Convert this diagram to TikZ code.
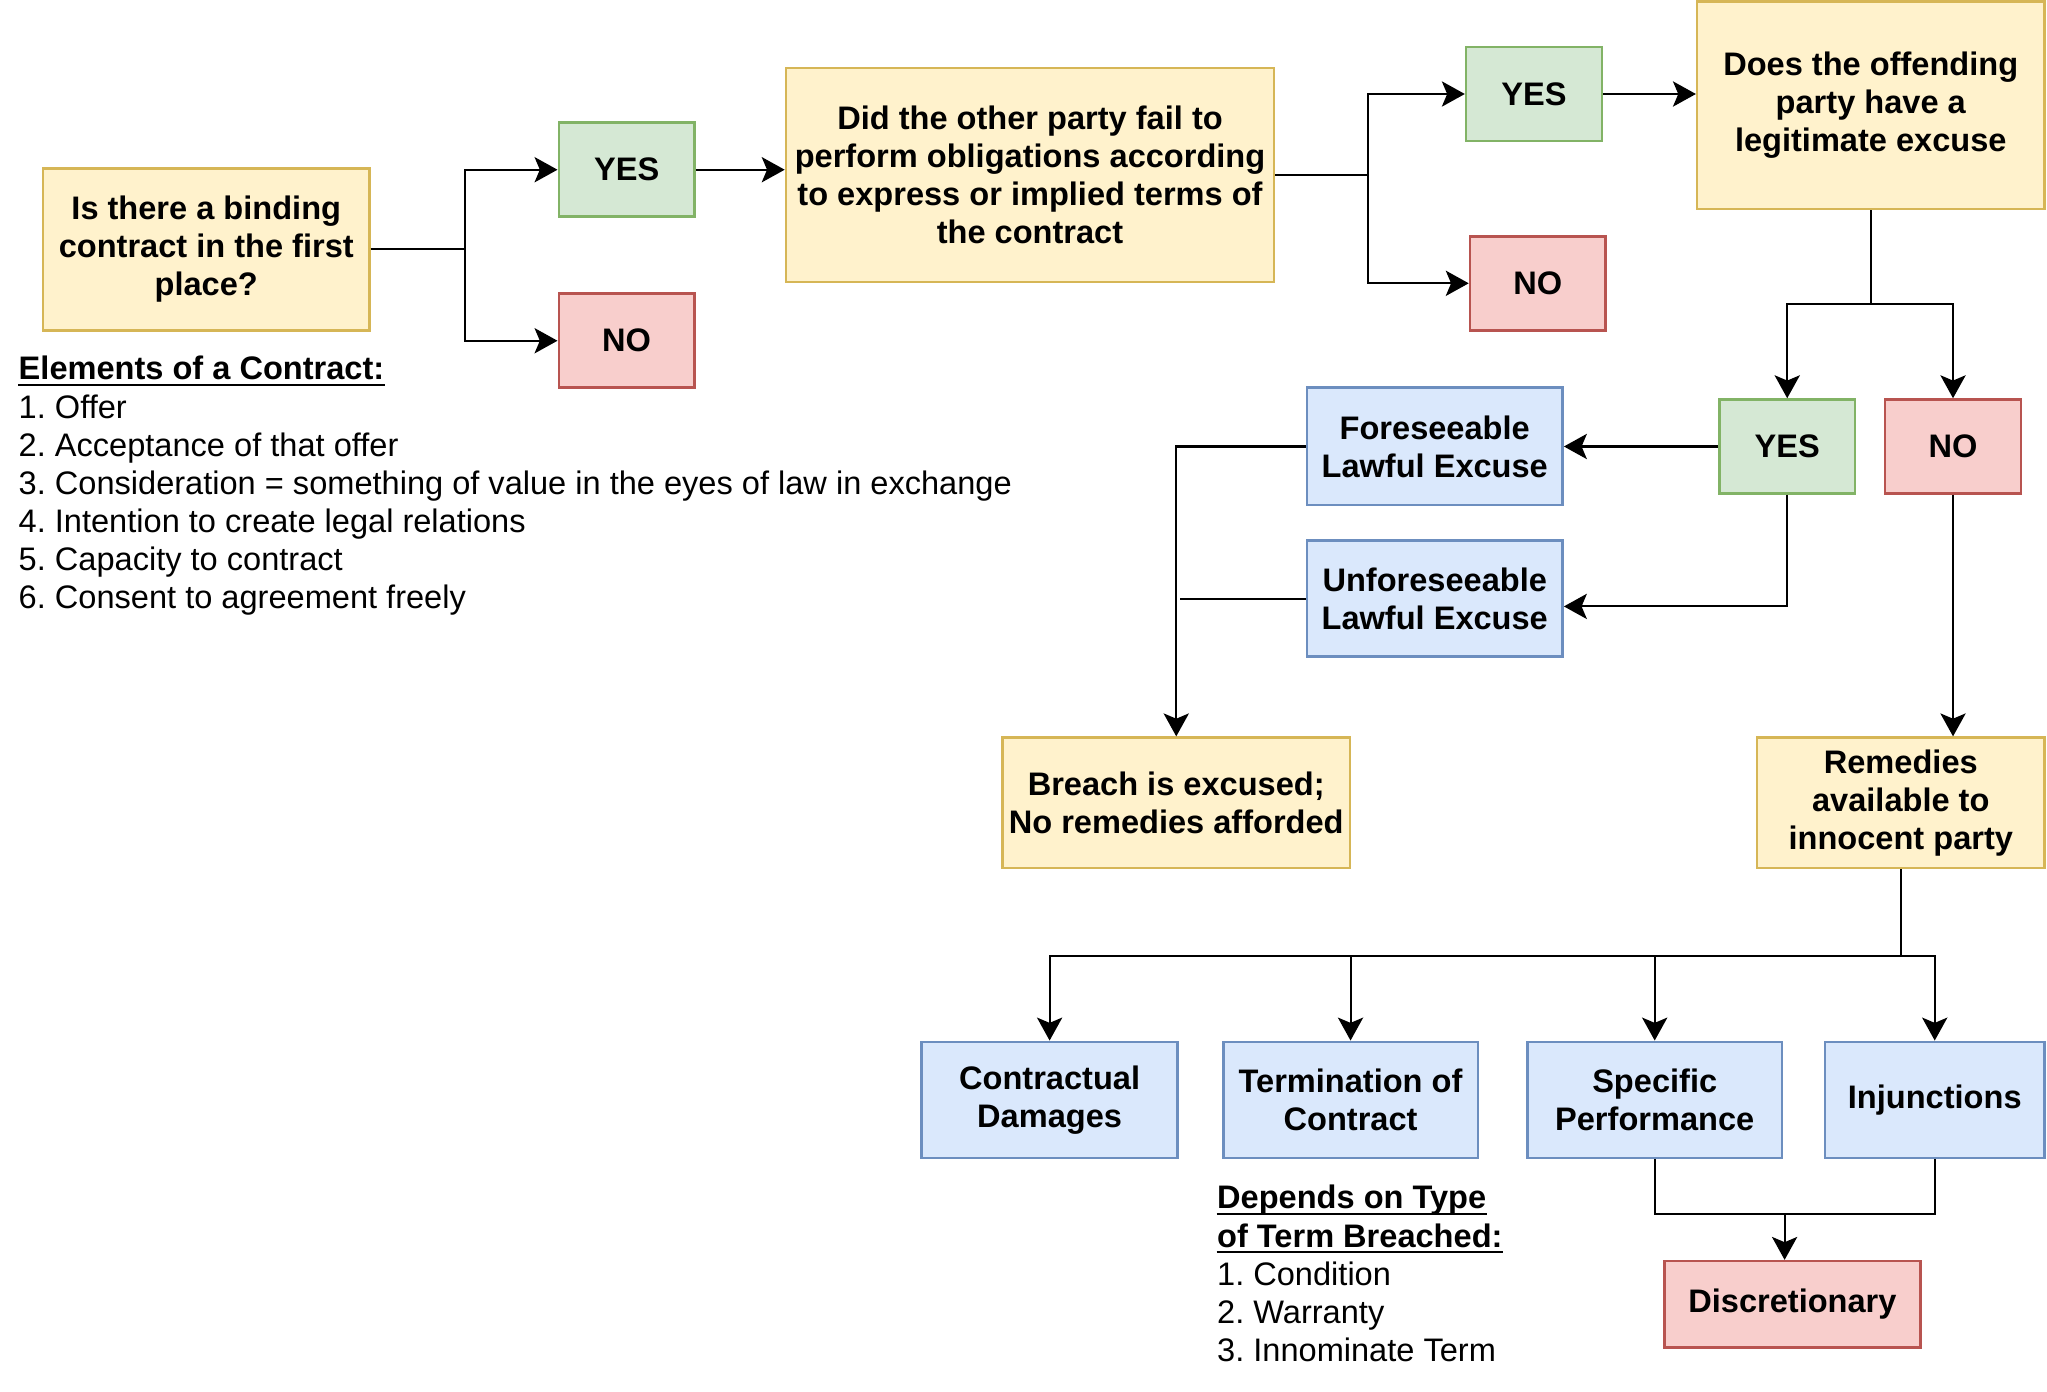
\documentclass[tikz,border=0pt]{standalone}
\usepackage{fontspec}
\setmainfont{Liberation Sans}
\frenchspacing
\usetikzlibrary{arrows.meta}
\definecolor{yfill}{HTML}{FFF2CC}
\definecolor{ydraw}{HTML}{D6B656}
\definecolor{gfill}{HTML}{D5E8D4}
\definecolor{gdraw}{HTML}{82B366}
\definecolor{rfill}{HTML}{F8CECC}
\definecolor{rdraw}{HTML}{B85450}
\definecolor{bfill}{HTML}{DAE8FC}
\definecolor{bdraw}{HTML}{6C8EBF}

\begin{document}
\begin{tikzpicture}[x=0.02cm, y=-0.02cm,
	box/.style={draw, line width=1.1pt, align=center, inner sep=0pt, font=\fontsize{14.2}{16.6}\selectfont\bfseries},
	question/.style={box, fill=yfill, draw=ydraw},
	yesbox/.style={box, fill=gfill, draw=gdraw, minimum width=2.08cm, minimum height=1.44cm},
	nobox/.style={box, fill=rfill, draw=rdraw, minimum width=2.08cm, minimum height=1.44cm},
	remedy/.style={box, fill=bfill, draw=bdraw, minimum height=1.78cm},
	conn/.style={line width=0.9pt},
	arr/.style={conn, -{Stealth[length=10pt, width=11pt, inset=2.3pt]}},
	listtext/.style={anchor=base west, inner sep=0pt, font=\fontsize{14.2}{16.6}\selectfont}]
	\path[use as bounding box, fill=white] (0,0) rectangle (1568,1066);
	% first question
	\node[question, minimum width=5cm, minimum height=2.48cm] (binding) at (158,191) {Is there a binding\\contract in the first\\place?};
	\node[yesbox] (yesA) at (480,130) {YES};
	\node[nobox] (noA) at (480,261) {NO};
	\coordinate (splitA) at (356,191);
	\draw[conn] (binding.east) -- (splitA);
	\draw[arr] (splitA) |- (yesA.west);
	\draw[arr] (splitA) |- (noA.west);
	% second question
	\node[question, minimum width=7.48cm, minimum height=3.28cm] (breachq) at (789,134) {Did the other party fail to\\perform obligations according\\to express or implied terms of\\the contract};
	\draw[arr] (yesA.east) -- (yesA.east -| breachq.west);
	\node[yesbox] (yesB) at (1175,72) {YES};
	\node[nobox] (noB) at (1178,217) {NO};
	\coordinate (splitB) at (1048,134);
	\draw[conn] (breachq.east) -- (splitB);
	\draw[arr] (splitB) |- (yesB.west);
	\draw[arr] (splitB) |- (noB.west);
	% third question
	\node[question, minimum width=5.32cm, minimum height=3.18cm] (excuse) at (1433,80.5) {Does the offending\\party have a\\legitimate excuse};
	\draw[arr] (yesB.east) -- (yesB.east -| excuse.west);
	\node[yesbox] (yesC) at (1369,342) {YES};
	\node[nobox] (noC) at (1496,342) {NO};
	\coordinate (splitC) at (1433,233);
	\draw[conn] (excuse.south) -- (splitC);
	\draw[arr] (splitC) -| (yesC.north);
	\draw[arr] (splitC) -| (noC.north);
	% lawful excuses
	\node[remedy, minimum width=3.92cm, minimum height=1.8cm] (fore) at (1099,342) {Foreseeable\\Lawful Excuse};
	\node[remedy, minimum width=3.92cm] (unfore) at (1099,458.5) {Unforeseeable\\Lawful Excuse};
	\draw[arr] (yesC.west) -- (fore.east);
	\draw[arr] (yesC.south) |- ([yshift=-0.12cm]unfore.east);
	\node[question, minimum width=5.32cm, minimum height=2cm] (excused) at (901,615) {Breach is excused;\\No remedies afforded};
	\draw[arr] (fore.west) -| (excused.north);
	\draw[conn] (unfore.west) -- ([xshift=0.06cm]unfore.west -| excused.north);
	% remedies
	\node[question, minimum width=4.4cm, minimum height=2cm] (remedies) at (1456,615) {Remedies\\available to\\innocent party};
	\draw[arr] (noC.south) -- (noC.south |- remedies.north);
	\node[remedy, minimum width=3.92cm] (damages) at (804,842.5) {Contractual\\Damages};
	\node[remedy, minimum width=3.9cm] (termination) at (1034.5,842.5) {Termination of\\Contract};
	\node[remedy, minimum width=3.9cm] (specific) at (1267.5,842.5) {Specific\\Performance};
	\node[remedy, minimum width=3.36cm] (injunctions) at (1482,842.5) {Injunctions};
	\coordinate (splitD) at (1456,732);
	\draw[conn] (remedies.south) -- (splitD);
	\foreach \r in {damages,termination,specific,injunctions}
		\draw[arr] (splitD) -| (\r.north);
	\node[box, fill=rfill, draw=rdraw, minimum width=3.92cm, minimum height=1.32cm] (discretionary) at (1373,999) {Discretionary};
	\coordinate (splitE) at (1367,930);
	\draw[conn] (specific.south) |- (splitE);
	\draw[conn] (injunctions.south) |- (splitE);
	\draw[arr] (splitE) -- (splitE |- discretionary.north);
	% notes
	\node[listtext, font=\fontsize{14.2}{16.6}\selectfont\bfseries] (elhead) at (14,291) {Elements of a Contract:};
	\draw[line width=0.8pt] ([yshift=-2.2pt]elhead.base west) -- ([yshift=-2.2pt]elhead.base east);
	\foreach \t [count=\i] in {1. Offer, 2. Acceptance of that offer, 3. Consideration = something of value in the eyes of law in exchange, 4. Intention to create legal relations, 5. Capacity to contract, 6. Consent to agreement freely}
		\node[listtext] (el\i) at (14,{291+29.2*\i}) {\t};
	\node[listtext, font=\fontsize{14.2}{16.6}\selectfont\bfseries] (dephead) at (932,926) {Depends on Type};
	\node[listtext, font=\fontsize{14.2}{16.6}\selectfont\bfseries] (dephead2) at (932,955.2) {of Term Breached:};
	\draw[line width=0.8pt] ([yshift=-2.2pt]dephead.base west) -- ([yshift=-2.2pt]dephead.base east);
	\draw[line width=0.8pt] ([yshift=-2.2pt]dephead2.base west) -- ([yshift=-2.2pt]dephead2.base east);
	\foreach \t [count=\i] in {1. Condition, 2. Warranty, 3. Innominate Term}
		\node[listtext] (dep\i) at (932,{955.2+29.2*\i}) {\t};
\end{tikzpicture}
\end{document}
